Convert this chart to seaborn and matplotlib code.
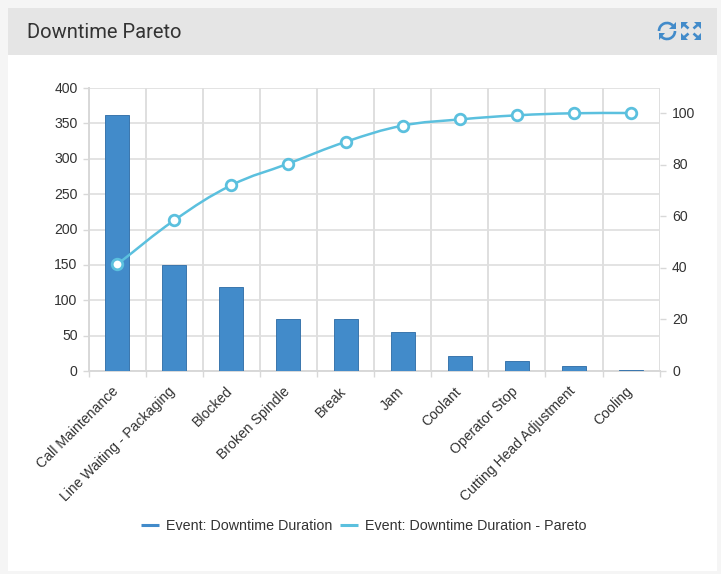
import pandas as pd
import matplotlib
matplotlib.use('Agg')
import matplotlib.pyplot as plt
import seaborn as sns
from matplotlib.lines import Line2D
from matplotlib.patches import Arc, PathPatch, Polygon, Rectangle
from matplotlib.path import Path
from matplotlib.transforms import ScaledTranslation

events = ['Call Maintenance', 'Line Waiting - Packaging', 'Blocked', 'Broken Spindle', 'Break',
          'Jam', 'Coolant', 'Operator Stop', 'Cutting Head Adjustment', 'Cooling']
duration = [362, 150, 119, 74, 74, 55, 21, 14, 7, 1]
pareto = [41.3, 58.4, 72.0, 80.4, 88.8, 95.1, 97.5, 99.1, 99.9, 100.0]
left_ticks = [0, 50, 100, 150, 200, 250, 300, 350, 400]
right_ticks = [0, 20, 40, 60, 80, 100]
legend_labels = ['Event: Downtime Duration', 'Event: Downtime Duration - Pareto']

BAR = '#428bca'
BAR_EDGE = '#3a76ad'
LINE = '#5bc0de'
TEXT = '#333333'
GRID_H = '#e0e0e0'
GRID_V = '#d6d6d6'
AXIS = '#d8d8d8'
W, H = 721, 574

sns.set_theme(style='white')
plt.rcParams['font.family'] = ['Liberation Sans', 'DejaVu Sans']

df = pd.DataFrame({'event': events, 'duration': duration, 'pareto': pareto})

fig = plt.figure(figsize=(W / 100, H / 100), dpi=100, facecolor='#f5f5f5')

# page furniture, drawn in pixel coordinates
bg = fig.add_axes([0, 0, 1, 1], zorder=0)
bg.set_xlim(0, W)
bg.set_ylim(H, 0)
bg.axis('off')
bg.add_patch(Rectangle((8, 55), 709, 516, fc='white', ec='none'))
bg.add_patch(Rectangle((8, 8), 709, 47, fc='#e5e5e5', ec='none'))
bg.text(27, 32, 'Downtime Pareto', family='Roboto', fontsize=14.5, color=TEXT, va='center', ha='left')

# refresh icon
icon = '#428bca'
bg.add_patch(Arc((667, 31), 16, 16, theta1=180, theta2=318, lw=1.9, color=icon))
bg.add_patch(Arc((667, 31), 16, 16, theta1=0, theta2=138, lw=1.9, color=icon))
bg.add_patch(Polygon([[675.5, 22], [675.5, 29], [669, 29]], fc=icon, ec='none'))
bg.add_patch(Polygon([[658.5, 40], [658.5, 33], [665, 33]], fc=icon, ec='none'))

# expand icon
for sx, sy in [(-1, -1), (1, -1), (-1, 1), (1, 1)]:
    cx, cy = 691, 31
    bg.add_patch(Polygon([[cx + sx * 10, cy + sy * 9], [cx + sx * 3, cy + sy * 9], [cx + sx * 10, cy + sy * 2]],
                         fc=icon, ec='none'))
    bg.plot([cx + sx * 2.5, cx + sx * 7], [cy + sy * 2.5, cy + sy * 6.5], color=icon, lw=1.9, solid_capstyle='butt')

# plot area runs 89..660 px wide, 88..371 px down
ax = fig.add_axes([88.6 / W, 1 - 371 / H, 571 / W, 283 / H], zorder=1)
ax.patch.set_alpha(0)
sns.barplot(data=df, x='event', y='duration', color=BAR, saturation=1, width=0.42,
            edgecolor=BAR_EDGE, linewidth=0.7, ax=ax, zorder=3)
ax.set_xlim(-0.5, 9.5)
ax.set_ylim(0, 400)
ax.set_yticks(left_ticks)
ax.set_xlabel('')
ax.set_ylabel('')
ax.set_xticks([i + 0.5 for i in range(-1, 10)], minor=True)
ax.grid(True, which='minor', axis='x', color=GRID_V, lw=1.1)
ax.grid(True, which='major', axis='y', color=GRID_H, lw=1.3)
ax.set_axisbelow(True)
ax.tick_params(axis='x', which='major', length=0, pad=9.5, labelsize=10.1, labelcolor=TEXT)
ax.tick_params(axis='x', which='minor', length=4, width=1, color=AXIS, bottom=True)
ax.tick_params(axis='y', length=4, width=1, color=AXIS, left=True, labelsize=10.1, labelcolor=TEXT, pad=4)
plt.setp(ax.get_xticklabels(), rotation=45, ha='right', va='top', rotation_mode='anchor')
nudge = ScaledTranslation(-6 / 100, 0, fig.dpi_scale_trans)
for label in ax.get_xticklabels():
    label.set_transform(label.get_transform() + nudge)
up = ScaledTranslation(0, 1 / 100, fig.dpi_scale_trans)
for label in ax.get_yticklabels():
    label.set_transform(label.get_transform() + up)
for name in ['top', 'right']:
    ax.spines[name].set_visible(False)
for name in ['left', 'bottom']:
    ax.spines[name].set_color(AXIS)
    ax.spines[name].set_linewidth(1.4)

ax2 = ax.twinx()
ax2.patch.set_alpha(0)
ax2.set_ylim(0, 283 / 2.58)
ax2.set_yticks(right_ticks)
ax2.set_ylabel('')
ax2.grid(False)
ax2.tick_params(axis='y', length=4, width=1, color=AXIS, right=True, labelsize=10.1, labelcolor=TEXT, pad=5)
for label in ax2.get_yticklabels():
    label.set_transform(label.get_transform() + up)
for spine in ax2.spines.values():
    spine.set_visible(False)

# smooth line through the points, spline style of the web chart
xs = list(range(len(pareto)))
verts = [(xs[0], pareto[0])]
codes = [Path.MOVETO]
smooth = 1.5
for i in range(1, len(xs)):
    x0, y0 = xs[i - 1], pareto[i - 1]
    x1, y1 = xs[i], pareto[i]
    c1x = (smooth * x0 + x1) / 2.5
    c1y = (smooth * y0 + y1) / 2.5
    c2x = (smooth * x1 + x0) / 2.5
    c2y = (smooth * y1 + y0) / 2.5
    if i >= 2:
        px, py = xs[i - 2], pareto[i - 2]
        rx = (smooth * x0 + px) / 2.5
        ry = (smooth * y0 + py) / 2.5
        c1y = c1y + (y0 - (c1y + (ry - c1y) * (c1x - x0) / (c1x - rx)))
    if i < len(xs) - 1:
        qx, qy = xs[i + 1], pareto[i + 1]
        rx = (smooth * x1 + qx) / 2.5
        ry = (smooth * y1 + qy) / 2.5
        c2y = c2y + (y1 - (c2y + (ry - c2y) * (x1 - c2x) / (rx - c2x)))
    verts += [(c1x, c1y), (c2x, c2y), (x1, y1)]
    codes += [Path.CURVE4, Path.CURVE4, Path.CURVE4]
ax2.add_patch(PathPatch(Path(verts, codes), fc='none', ec=LINE, lw=1.8, zorder=4))

sns.scatterplot(data=df, x='event', y='pareto', ax=ax2, s=58, color='white', edgecolor=LINE,
                linewidth=2.0, zorder=5, clip_on=False, legend=False)
ax2.set_xlim(-0.5, 9.5)
ax2.set_ylabel('')
ax2.set_xlabel('')

handles = [Line2D([], [], color=BAR, lw=2.2, solid_capstyle='butt'),
           Line2D([], [], color=LINE, lw=2.2, solid_capstyle='butt')]
fig.legend(handles, legend_labels, loc='center', bbox_to_anchor=(363.5 / W, 1 - 526 / H), ncol=2, frameon=False,
           fontsize=10.3, labelcolor=TEXT, handlelength=1.26, handletextpad=0.5, columnspacing=0.5)

fig.savefig('out.png', dpi=100, facecolor=fig.get_facecolor())
